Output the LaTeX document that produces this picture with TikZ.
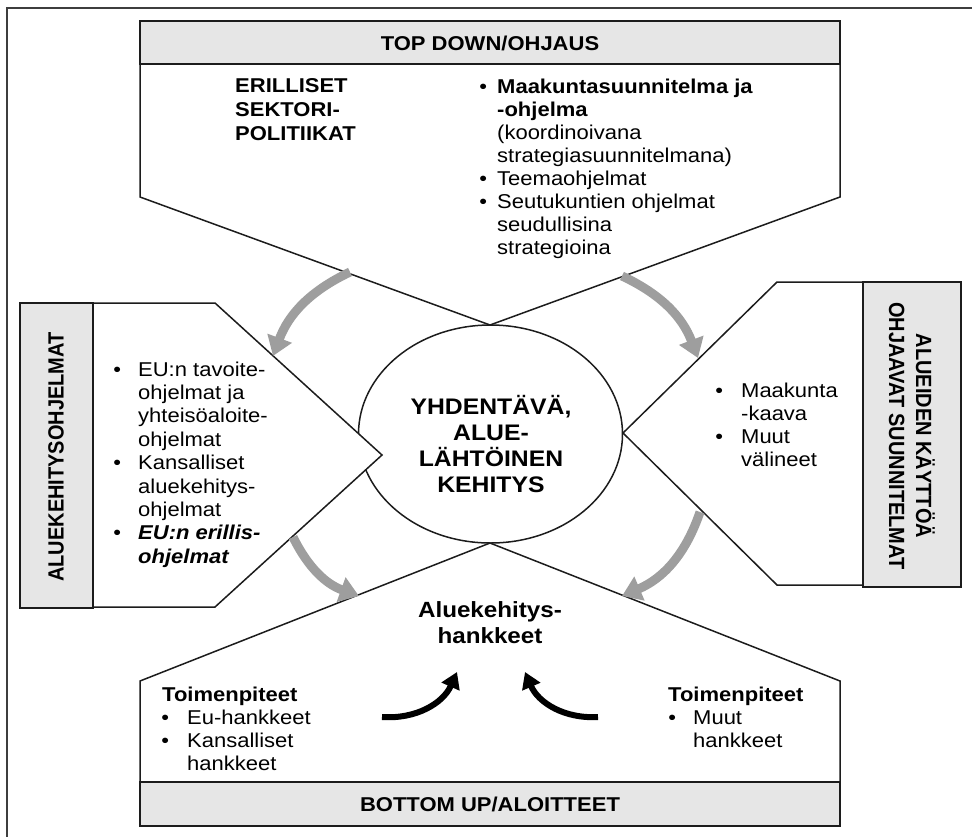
\documentclass[tikz,border=0pt]{standalone}
\usepackage{fontspec}
\usepackage{graphicx}
\setmainfont{Liberation Sans}[FakeStretch=1.1]
\newfontfamily\upfont{Liberation Sans}
\usetikzlibrary{arrows.meta,shapes.geometric}

\definecolor{barfill}{RGB}{230,230,230}
\definecolor{flowgray}{RGB}{158,158,158}
\definecolor{edge}{RGB}{28,28,28}

\newcommand\bodysize{\fontsize{20}{23}\selectfont}
% bullet hung to the left of the text column, centred in a box of width #1
\newcommand\bul[1]{\leavevmode\llap{\makebox[#1]{\textbullet}}}

\tikzset{
  outline/.style={draw=edge, line width=1.5pt, line join=miter, fill=white},
  bar/.style={draw=edge, line width=1.8pt, fill=barfill},
  flow/.style={draw=flowgray, line width=9pt, -{Triangle[width=25pt,length=19pt]}},
  push/.style={draw=black, line width=6pt, -{Triangle[width=19pt,length=16pt]}},
  txt/.style={anchor=base west, inner sep=0pt, font=\bodysize},
  ctr/.style={anchor=base, inner sep=0pt, font=\bodysize},
}

\begin{document}
\begin{tikzpicture}[x=1pt,y=-1pt]
\useasboundingbox (0,0) rectangle (972,836);

% page frame (top and left rules)
\draw[draw=edge!85, line width=2pt] (975,8) -- (7,8) -- (7,840);

% central ellipse
\node[draw=edge, line width=1.5pt, ellipse, minimum width=264pt, minimum height=218pt, inner sep=0pt] (core) at (490.5,434) {};

% four arrow-shaped panels
\draw[outline] (140,64) -- (840,64) -- (840,197) -- (490,325) -- (140,197) -- cycle;
\draw[outline] (140,782) -- (140,681) -- (490,543) -- (840,681) -- (840,782) -- cycle;
\draw[outline] (93,303) -- (215,303) -- (382,455) -- (215,607) -- (93,607) -- cycle;
\draw[outline] (863,282) -- (777,282) -- (623,433) -- (777,585) -- (863,585) -- cycle;

% grey title bars
\draw[bar] (140,21) rectangle (840,64);
\draw[bar] (140,782) rectangle (840,826);
\draw[bar] (20,303) rectangle (93,608);
\draw[bar] (863,282) rectangle (961,587);

% bar titles
\node[ctr] (toptitle) at (490,50) {\bfseries TOP DOWN/OHJAUS};
\node[ctr] (bottomtitle) at (490,811) {\bfseries BOTTOM UP/ALOITTEET};
\node[rotate=90, inner sep=0pt, font=\bodysize] (lefttitle) at (56,457)
  {\upfont\bfseries\scalebox{1}[1.1]{ALUEKEHITYSOHJELMAT}};
\node[rotate=-90, inner sep=0pt, font=\bodysize] (righttitle) at (912,436)
  {\scalebox{1}[1.1]{\parbox{320pt}{\centering\upfont\bfseries\baselineskip=24.5pt
   ALUEIDEN KÄYTTÖÄ\\OHJAAVAT SUUNNITELMAT}}};

% top panel
\node[txt] (sector) at (235,92) {\parbox[t]{160pt}{\bfseries\baselineskip=24pt
  ERILLISET\\SEKTORI-\\POLITIIKAT}};
\node[txt] (plans) at (497,93) {\parbox[t]{330pt}{\raggedright
  \bul{28pt}\textbf{Maakuntasuunnitelma ja}\\
  \textbf{-ohjelma}\\
  (koordinoivana\\
  strategiasuunnitelmana)\\
  \bul{28pt}Teemaohjelmat\\
  \bul{28pt}Seutukuntien ohjelmat\\
  seudullisina\\
  strategioina}};

% left panel
\node[txt] (programmes) at (138,376) {\parbox[t]{220pt}{\raggedright\baselineskip=23.4pt
  \bul{42pt}EU:n tavoite-\\
  ohjelmat ja\\
  yhteisöaloite-\\
  ohjelmat\\
  \bul{42pt}Kansalliset\\
  aluekehitys-\\
  ohjelmat\\
  \bul{42pt}\textbf{\textit{EU:n erillis-}}\\
  \textbf{\textit{ohjelmat}}}};

% right panel
\node[txt] (landuse) at (741,397.5) {\parbox[t]{120pt}{\raggedright
  \bul{44pt}Maakunta\\
  -kaava\\
  \bul{44pt}Muut\\
  välineet}};

% centre text
\node[ctr] (coretext) at (491,414) {\parbox[t]{240pt}{\centering
  \fontsize{22.5}{26}\selectfont\bfseries
  YHDENTÄVÄ,\\ALUE-\\LÄHTÖINEN\\KEHITYS}};

% bottom panel
\node[ctr] (projects) at (490,617) {\parbox[t]{240pt}{\centering
  \fontsize{22}{26.5}\selectfont\bfseries
  Aluekehitys-\\hankkeet}};
\node[txt] (actleft) at (162,701.5) {\bfseries Toimenpiteet};
\node[txt] (listleft) at (187,724.5) {\parbox[t]{200pt}{\raggedright
  \bul{44pt}Eu-hankkeet\\
  \bul{44pt}Kansalliset\\
  hankkeet}};
\node[txt] (actright) at (668,701.5) {\bfseries Toimenpiteet};
\node[txt] (listright) at (693,724.5) {\parbox[t]{150pt}{\raggedright
  \bul{42pt}Muut\\
  hankkeet}};

% end points of the curved arrows
\coordinate (tlA) at (350,272);  \coordinate (tlB) at (273,356);
\coordinate (trA) at (622,276);  \coordinate (trB) at (698,358);
\coordinate (blA) at (293,537);  \coordinate (blB) at (359,596);
\coordinate (brA) at (700,512);  \coordinate (brB) at (622,596);
\coordinate (plA) at (382,717);  \coordinate (plB) at (457,672);
\coordinate (prA) at (598,717);  \coordinate (prB) at (525,672);

% grey flows around the centre
\draw[flow] (tlA) to[bend right=22] (tlB);
\draw[flow] (trA) to[bend left=22] (trB);
\draw[flow] (blA) to[bend right=22] (blB);
\draw[flow] (brA) to[bend left=24] (brB);

% black upward pushes
\draw[push] (plA) to[bend right=35] (plB);
\draw[push] (prA) to[bend left=35] (prB);
\end{tikzpicture}
\end{document}
